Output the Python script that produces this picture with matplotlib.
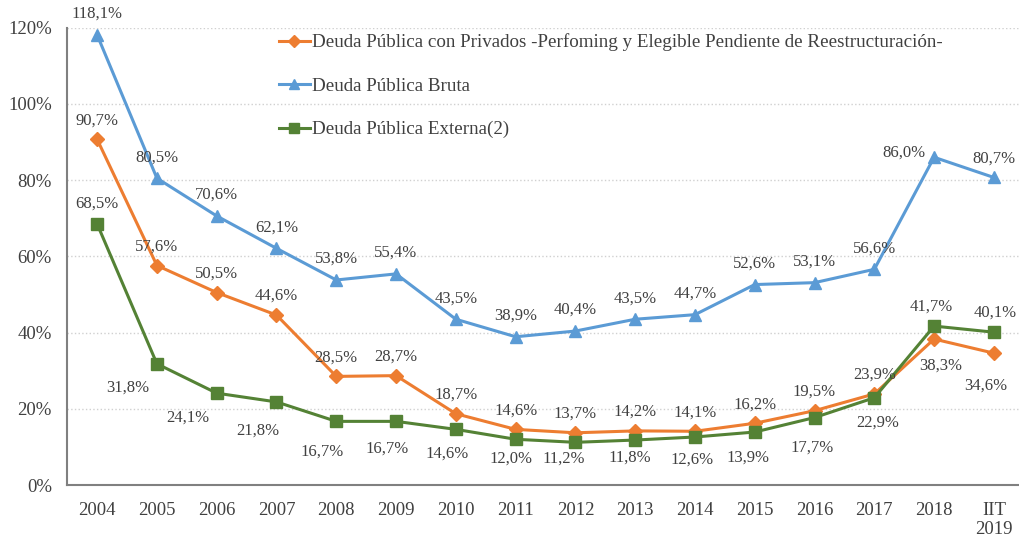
import matplotlib
matplotlib.use('Agg')
import matplotlib.pyplot as plt
from matplotlib.ticker import FuncFormatter

plt.rcParams['font.family'] = ['Liberation Serif', 'DejaVu Serif']

# Data (% of GDP)
years = ['2004', '2005', '2006', '2007', '2008', '2009', '2010', '2011', '2012',
         '2013', '2014', '2015', '2016', '2017', '2018', 'IIT\n2019']
privados = [90.7, 57.6, 50.5, 44.6, 28.5, 28.7, 18.7, 14.6, 13.7, 14.2, 14.1, 16.2, 19.5, 23.9, 38.3, 34.6]
bruta = [118.1, 80.5, 70.6, 62.1, 53.8, 55.4, 43.5, 38.9, 40.4, 43.5, 44.7, 52.6, 53.1, 56.6, 86.0, 80.7]
externa = [68.5, 31.8, 24.1, 21.8, 16.7, 16.7, 14.6, 12.0, 11.2, 11.8, 12.6, 13.9, 17.7, 22.9, 41.7, 40.1]

label_privados = 'Deuda Pública con Privados -Perfoming y Elegible Pendiente de Reestructuración-'
label_bruta = 'Deuda Pública Bruta'
label_externa = 'Deuda Pública Externa(2)'

# label offsets in pixels (dx, dy), dy positive = up
off_privados = [(0, 19)] * 14 + [(7, -27), (-8, -32)]
off_bruta = [(0, 21)] * 14 + [(-30, 5), (0, 19)]
off_externa = [(0, 20), (-29, -24), (-29, -24), (-19, -29), (-14, -30), (-9, -27), (-9, -24),
               (-5, -19), (-12, -16), (-5, -18), (-3, -23), (-7, -26), (-2, -30), (3, -25),
               (-3, 19), (1, 20)]

c_or = '#ED7D31'
c_bl = '#5B9BD5'
c_gr = '#548235'
txt = '#404040'

fig = plt.figure(figsize=(10.19, 5.38), dpi=100)
ax = fig.add_axes([0.066, 0.0985, 0.934, 0.85])

x = list(range(len(years)))
ax.plot(x, privados, color=c_or, lw=2.2, marker='D', ms=7, label=label_privados, zorder=3)
ax.plot(x, bruta, color=c_bl, lw=2.2, marker='^', ms=9, label=label_bruta, zorder=3)
ax.plot(x, externa, color=c_gr, lw=2.2, marker='s', ms=9, label=label_externa, zorder=4)

def fmt(v):
    return f'{v:.1f}%'.replace('.', ',')

for vals, offs in [(privados, off_privados), (bruta, off_bruta), (externa, off_externa)]:
    for i, v in enumerate(vals):
        dx, dy = offs[i]
        ax.annotate(fmt(v), (i, v), xytext=(dx * 0.72, dy * 0.72), textcoords='offset points',
                    ha='center', va='center', fontsize=12, color=txt, zorder=5)

ax.set_ylim(0, 120)
ax.set_xlim(-0.5, 15.42)
ax.set_yticks(range(0, 121, 20))
ax.yaxis.set_major_formatter(FuncFormatter(lambda v, p: f'{int(v)}%'))
ax.set_xticks(x)
ax.set_xticklabels(years)
ax.tick_params(axis='both', length=0, labelsize=13.5, colors=txt)
ax.tick_params(axis='x', pad=12)
ax.tick_params(axis='y', pad=11)

ax.grid(axis='y', color='#d0d0d0', linestyle=':', lw=1)
ax.set_axisbelow(True)
for s in ['top', 'right']:
    ax.spines[s].set_visible(False)
for s in ['left', 'bottom']:
    ax.spines[s].set_color('#808080')
    ax.spines[s].set_linewidth(1.5)

leg = ax.legend(loc='upper left', bbox_to_anchor=(0.204, 1.025), frameon=False, fontsize=13.7,
                labelspacing=1.38, handlelength=1.65, handletextpad=0.1, markerscale=0.85)
for t in leg.get_texts():
    t.set_color(txt)

fig.savefig('out.png', dpi=100)
